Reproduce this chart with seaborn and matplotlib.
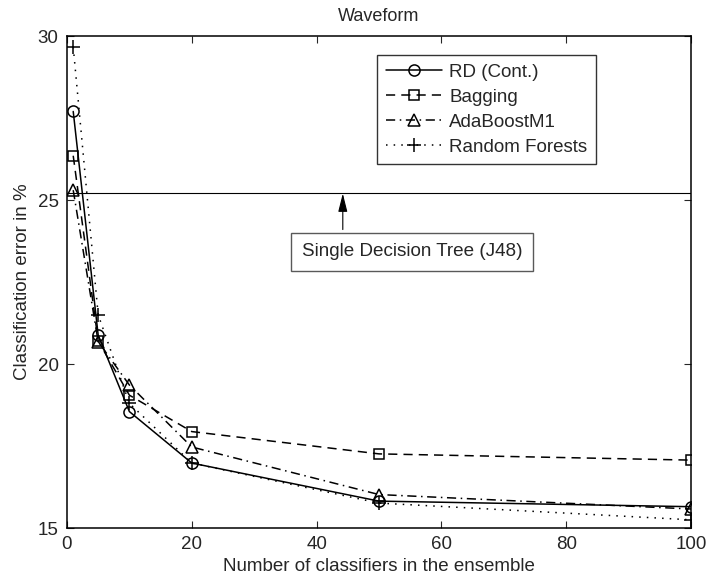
import matplotlib
matplotlib.use("Agg")
import matplotlib.pyplot as plt
import seaborn as sns
import pandas as pd

# ---- data ----
n_classifiers = [1, 5, 10, 20, 50, 100]
rd_cont = [27.70, 20.88, 18.55, 16.98, 15.82, 15.65]
bagging = [26.35, 20.70, 19.05, 17.94, 17.26, 17.07]
adaboost = [25.30, 20.68, 19.36, 17.47, 16.02, 15.58]
random_forests = [29.67, 21.50, 18.80, 16.98, 15.76, 15.25]
j48_error = 25.2

series_names = ["RD (Cont.)", "Bagging", "AdaBoostM1", "Random Forests"]
series_values = [rd_cont, bagging, adaboost, random_forests]
x_ticks = [0, 20, 40, 60, 80, 100]
y_ticks = [15, 20, 25, 30]

sns.set_style("white")
plt.rcParams["font.family"] = ["Liberation Sans", "DejaVu Sans"]

styles = {
    "RD (Cont.)": dict(linestyle="-", marker="o", ms=8),
    "Bagging": dict(linestyle=(0, (6, 4)), marker="s", ms=6.5),
    "AdaBoostM1": dict(linestyle=(0, (6, 3, 1, 3)), marker="^", ms=8),
    "Random Forests": dict(linestyle=(0, (1, 4)), marker="+", ms=10),
}

fig = plt.figure(figsize=(7.08, 5.81), dpi=100)
ax = fig.add_axes([0.0946, 0.0912, 0.8814, 0.8468])

ax.axhline(j48_error, color="black", lw=0.8, zorder=1)

for name, vals in zip(series_names, series_values):
    df = pd.DataFrame({"n": n_classifiers, "err": vals})
    st = styles[name]
    sns.lineplot(data=df, x="n", y="err", ax=ax, color="black", lw=1.1,
                 linestyle=st["linestyle"], marker=st["marker"],
                 markersize=st["ms"],
                 markerfacecolor="none", markeredgecolor="black",
                 markeredgewidth=1.1, label=name, zorder=3)

ax.set_xlim(0, 100)
ax.set_ylim(15, 30)
ax.set_xticks(x_ticks)
ax.set_yticks(y_ticks)
ax.tick_params(direction="in", length=5, width=0.8, labelsize=13.5,
               top=True, right=True, bottom=True, left=True, pad=6)
for sp in ax.spines.values():
    sp.set_color("black")
    sp.set_linewidth(1.1)

ax.set_title("Waveform", fontsize=13, pad=11)
ax.set_xlabel("Number of classifiers in the ensemble", fontsize=13.5, labelpad=3)
ax.set_ylabel("Classification error in %", fontsize=13.5, labelpad=5)

# annotation arrow + text box
ax.annotate("", xy=(44.2, j48_error), xytext=(44.2, 24.1),
            arrowprops=dict(arrowstyle="-|>,head_length=0.8,head_width=0.2",
                            color="black", lw=0.8, shrinkA=0, shrinkB=0,
                            mutation_scale=14))
ax.text(55.3, 23.42, "Single Decision Tree (J48)", fontsize=13.6,
        ha="center", va="center",
        bbox=dict(boxstyle="square,pad=0.55", fc="white", ec="0.35", lw=1.0))

leg = ax.legend(loc="upper left", bbox_to_anchor=(0.497, 0.961),
                borderaxespad=0, fontsize=13.5, frameon=True, fancybox=False,
                handlelength=3.0, handletextpad=0.4, labelspacing=0.42,
                borderpad=0.45)
leg.get_frame().set_edgecolor("black")
leg.get_frame().set_linewidth(1.0)

fig.savefig("out.png", dpi=100)
